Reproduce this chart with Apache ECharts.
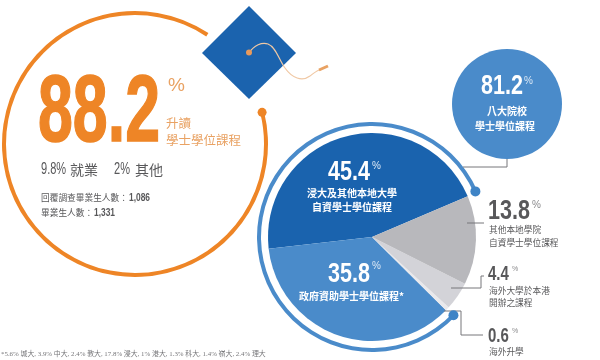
<!DOCTYPE html>
<html>
<head>
<meta charset="utf-8">
<style>
html,body{margin:0;padding:0;background:#fff;}
#main{width:600px;height:360px;}
</style>
<script src="https://cdn.jsdelivr.net/npm/echarts@6/dist/echarts.min.js"></script>
</head>
<body>
<div id="main"></div>
<script>
// 升讀比率
var mainRate = [88.2, 11.8];
var otherRates = ['9.8%', '2%'];
var otherNames = ['就業', '其他'];
var countNames = ['回覆調查畢業生人數：', '畢業生人數：'];
var countValues = ['1,086', '1,331'];
// 八大院校比率
var ugcRate = [81.2, 18.8];
// 學士學位課程分佈
var degreeNames = ['浸大及其他本地大學自資學士學位課程', '政府資助學士學位課程', '海外升學', '海外大學於本港開辦之課程', '其他本地學院自資學士學位課程'];
var degreeValues = [45.4, 35.8, 0.6, 4.4, 13.8];
var degreeColors = ['#1a63ae', '#4a8bca', '#e9e9ec', '#d3d3d8', '#b8b8bc'];
var footnote = '*5.6% 城大, 3.9% 中大, 2.4% 教大, 17.8% 浸大, 1% 港大, 1.3% 科大, 1.4% 嶺大, 2.4% 理大';

var cjk = '"Noto Sans CJK TC"';
var latin = '"Liberation Sans"';
var orange = '#ee8526';
var orangeSoft = '#e9a263';
var grayText = '#58585a';
var lineGray = '#77777a';

var mainCenter = [135, 144], mainStart = 14;
var pieCenter = [372, 237], ringStart = 23.8, pieStart = 23;

// 圆环末端的小圆点
function arcEnd(center, r, deg){
    var a = deg * Math.PI / 180;
    return [center[0] + r * Math.cos(a), center[1] - r * Math.sin(a)];
}
function txt(x, y, text, size, color, o){
    o = o || {};
    var style = {
        text: text, fill: color, align: o.align || 'left', verticalAlign: 'middle',
        font: (o.weight || 'normal') + ' ' + size + 'px ' + (o.family || cjk)
    };
    if (o.thick) {
        style.stroke = color;
        style.lineWidth = o.thick;
    }
    return {type: 'text', x: x, y: y, scaleX: o.sx || 1, silent: true, z: 10, style: style};
}
// 窄体数字
function num(x, y, text, size, color, o){
    o = o || {};
    return txt(x, y, text, size, color, {family: latin, sx: o.sx || 0.77, weight: o.weight || 'normal', thick: o.thick});
}
function line(points, color, w){
    return {type: 'polyline', silent: true, z: 5, shape: {points: points},
        style: {stroke: color || lineGray, lineWidth: w || 1, fill: null}};
}
function dot(p, r, color){
    return {type: 'circle', silent: true, z: 6, shape: {cx: p[0], cy: p[1], r: r}, style: {fill: color}};
}
function curve(a, c1, c2, b){
    return {type: 'bezierCurve', silent: true, z: 4,
        shape: {x1: a[0], y1: a[1], cpx1: c1[0], cpy1: c1[1], cpx2: c2[0], cpy2: c2[1], x2: b[0], y2: b[1]},
        style: {stroke: '#f0c8a4', lineWidth: 1.2, fill: null}};
}

var startDot = arcEnd(mainCenter, 131, mainStart);
var ringDot1 = arcEnd(pieCenter, 113, ringStart);
var ringDot2 = arcEnd(pieCenter, 113, ringStart + ugcRate[0] / 100 * 360);

var graphics = [
    // 学士帽
    {type: 'polygon', silent: true, z: 3, shape: {points: [[249, 6], [296, 53], [249, 99], [202, 53]]}, style: {fill: '#1b63ae'}},
    curve([249, 53], [254, 45], [262, 42], [268, 44]),
    curve([268, 44], [276, 47], [279, 60], [285, 68]),
    curve([285, 68], [292, 78], [302, 82], [310, 76]),
    curve([310, 76], [314, 73], [317, 70], [322, 69]),
    line([[319, 70], [328, 66]], orangeSoft, 3),
    dot([249, 52.5], 3, '#e89a5c'),
    dot(startDot, 4.5, orange),

    // 左侧文字
    num(38, 115, String(mainRate[0]), 95, orange, {weight: 'bold', sx: 0.66, thick: 1.5}),
    txt(168, 86, '%', 19, orangeSoft, {family: latin}),
    txt(166, 123, '升讀', 12.5, orangeSoft),
    txt(166, 140, '學士學位課程', 12.5, orangeSoft),
    num(41, 170, otherRates[0], 16, grayText, {sx: 0.69}),
    txt(70, 170, otherNames[0], 14, grayText),
    num(114, 170, otherRates[1], 16, grayText, {sx: 0.69}),
    txt(135, 170, otherNames[1], 14, grayText),
    txt(41, 198, countNames[0], 8.7, grayText),
    num(129, 198, countValues[0], 10, grayText, {sx: 0.84, weight: 'bold'}),
    txt(41, 213, countNames[1], 8.7, grayText),
    num(94, 213, countValues[1], 10, grayText, {sx: 0.84, weight: 'bold'}),
    txt(1, 354, footnote, 6.9, '#77777a', {family: '"Liberation Serif","Noto Sans CJK TC"'}),

    // 八大院校圆
    dot([507, 104], 55, '#4a8bca'),
    num(481, 87, String(ugcRate[0]), 27, '#fff', {weight: 'bold', sx: 0.8}),
    txt(524, 81, '%', 10, '#dbe8f5', {family: latin}),
    txt(507, 111, '八大院校', 10, '#fff', {align: 'center', weight: 'bold'}),
    txt(505, 126, '學士學位課程', 10, '#fff', {align: 'center', weight: 'bold'}),

    // 圆环末端
    dot(ringDot1, 5, '#3f84c6'),
    dot(ringDot2, 5, '#3f84c6'),

    // 饼图内文字
    num(328, 172, String(degreeValues[0]), 28, '#fff', {weight: 'bold'}),
    txt(372, 166, '%', 10, '#dbe8f5', {family: latin}),
    txt(352, 193, '浸大及其他本地大學', 10, '#fff', {align: 'center', weight: 'bold'}),
    txt(352, 207, '自資學士學位課程', 10, '#fff', {align: 'center', weight: 'bold'}),
    num(328, 274, String(degreeValues[1]), 28, '#fff', {weight: 'bold'}),
    txt(372, 266, '%', 10, '#dbe8f5', {family: latin}),
    txt(299, 296, '政府資助學士學位課程*', 10, '#fff', {weight: 'bold'}),

    // 引线
    line([[507, 159], [507, 167], [463, 167]]),
    line([[467, 223], [484, 223]]),
    line([[451, 288], [481, 288], [481, 276], [484, 276]]),
    line([[444, 311], [461, 311], [461, 335], [483, 335]]),

    // 右侧标注
    num(488, 211, String(degreeValues[4]), 28, grayText, {weight: 'bold'}),
    txt(532, 205, '%', 10, '#8a8a8c', {family: latin}),
    txt(489, 230, '其他本地學院', 8.7, grayText),
    txt(489, 243, '自資學士學位課程', 8.7, grayText),
    num(488, 274, String(degreeValues[3]), 20, grayText, {weight: 'bold', sx: 0.75}),
    txt(512, 269, '%', 7, '#8a8a8c', {family: latin}),
    txt(489, 291, '海外大學於本港', 8.7, grayText),
    txt(489, 303, '開辦之課程', 8.7, grayText),
    num(488, 336, String(degreeValues[2]), 20, grayText, {weight: 'bold', sx: 0.75}),
    txt(512, 331, '%', 7, '#8a8a8c', {family: latin}),
    txt(489, 352, '海外升學', 8.7, grayText)
];

var chart = echarts.init(document.getElementById('main'));
var option = {
    animation: false,
    backgroundColor: '#fff',
    tooltip: {show: false},
    legend: {show: false},
    series: [
        {
            type: 'pie', silent: true, center: mainCenter, radius: [129, 133],
            startAngle: mainStart, clockwise: true,
            label: {show: false}, labelLine: {show: false},
            data: [
                {value: mainRate[0], name: '升讀學士學位課程', itemStyle: {color: orange}},
                {value: mainRate[1], name: '其他', itemStyle: {color: 'rgba(0,0,0,0)'}}
            ]
        },
        {
            type: 'pie', silent: true, center: pieCenter, radius: [111, 115],
            startAngle: ringStart, clockwise: false,
            label: {show: false}, labelLine: {show: false},
            data: [
                {value: ugcRate[0], name: '八大院校', itemStyle: {color: '#4a8bca'}},
                {value: ugcRate[1], name: '其他', itemStyle: {color: 'rgba(0,0,0,0)'}}
            ]
        },
        {
            type: 'pie', silent: true, center: pieCenter, radius: [0, 104],
            startAngle: pieStart, clockwise: false,
            label: {show: false}, labelLine: {show: false},
            data: degreeValues.map(function(v, i){
                return {value: v, name: degreeNames[i], itemStyle: {color: degreeColors[i]}};
            })
        }
    ],
    graphic: graphics
};
chart.setOption(option);
</script>
</body>
</html>
